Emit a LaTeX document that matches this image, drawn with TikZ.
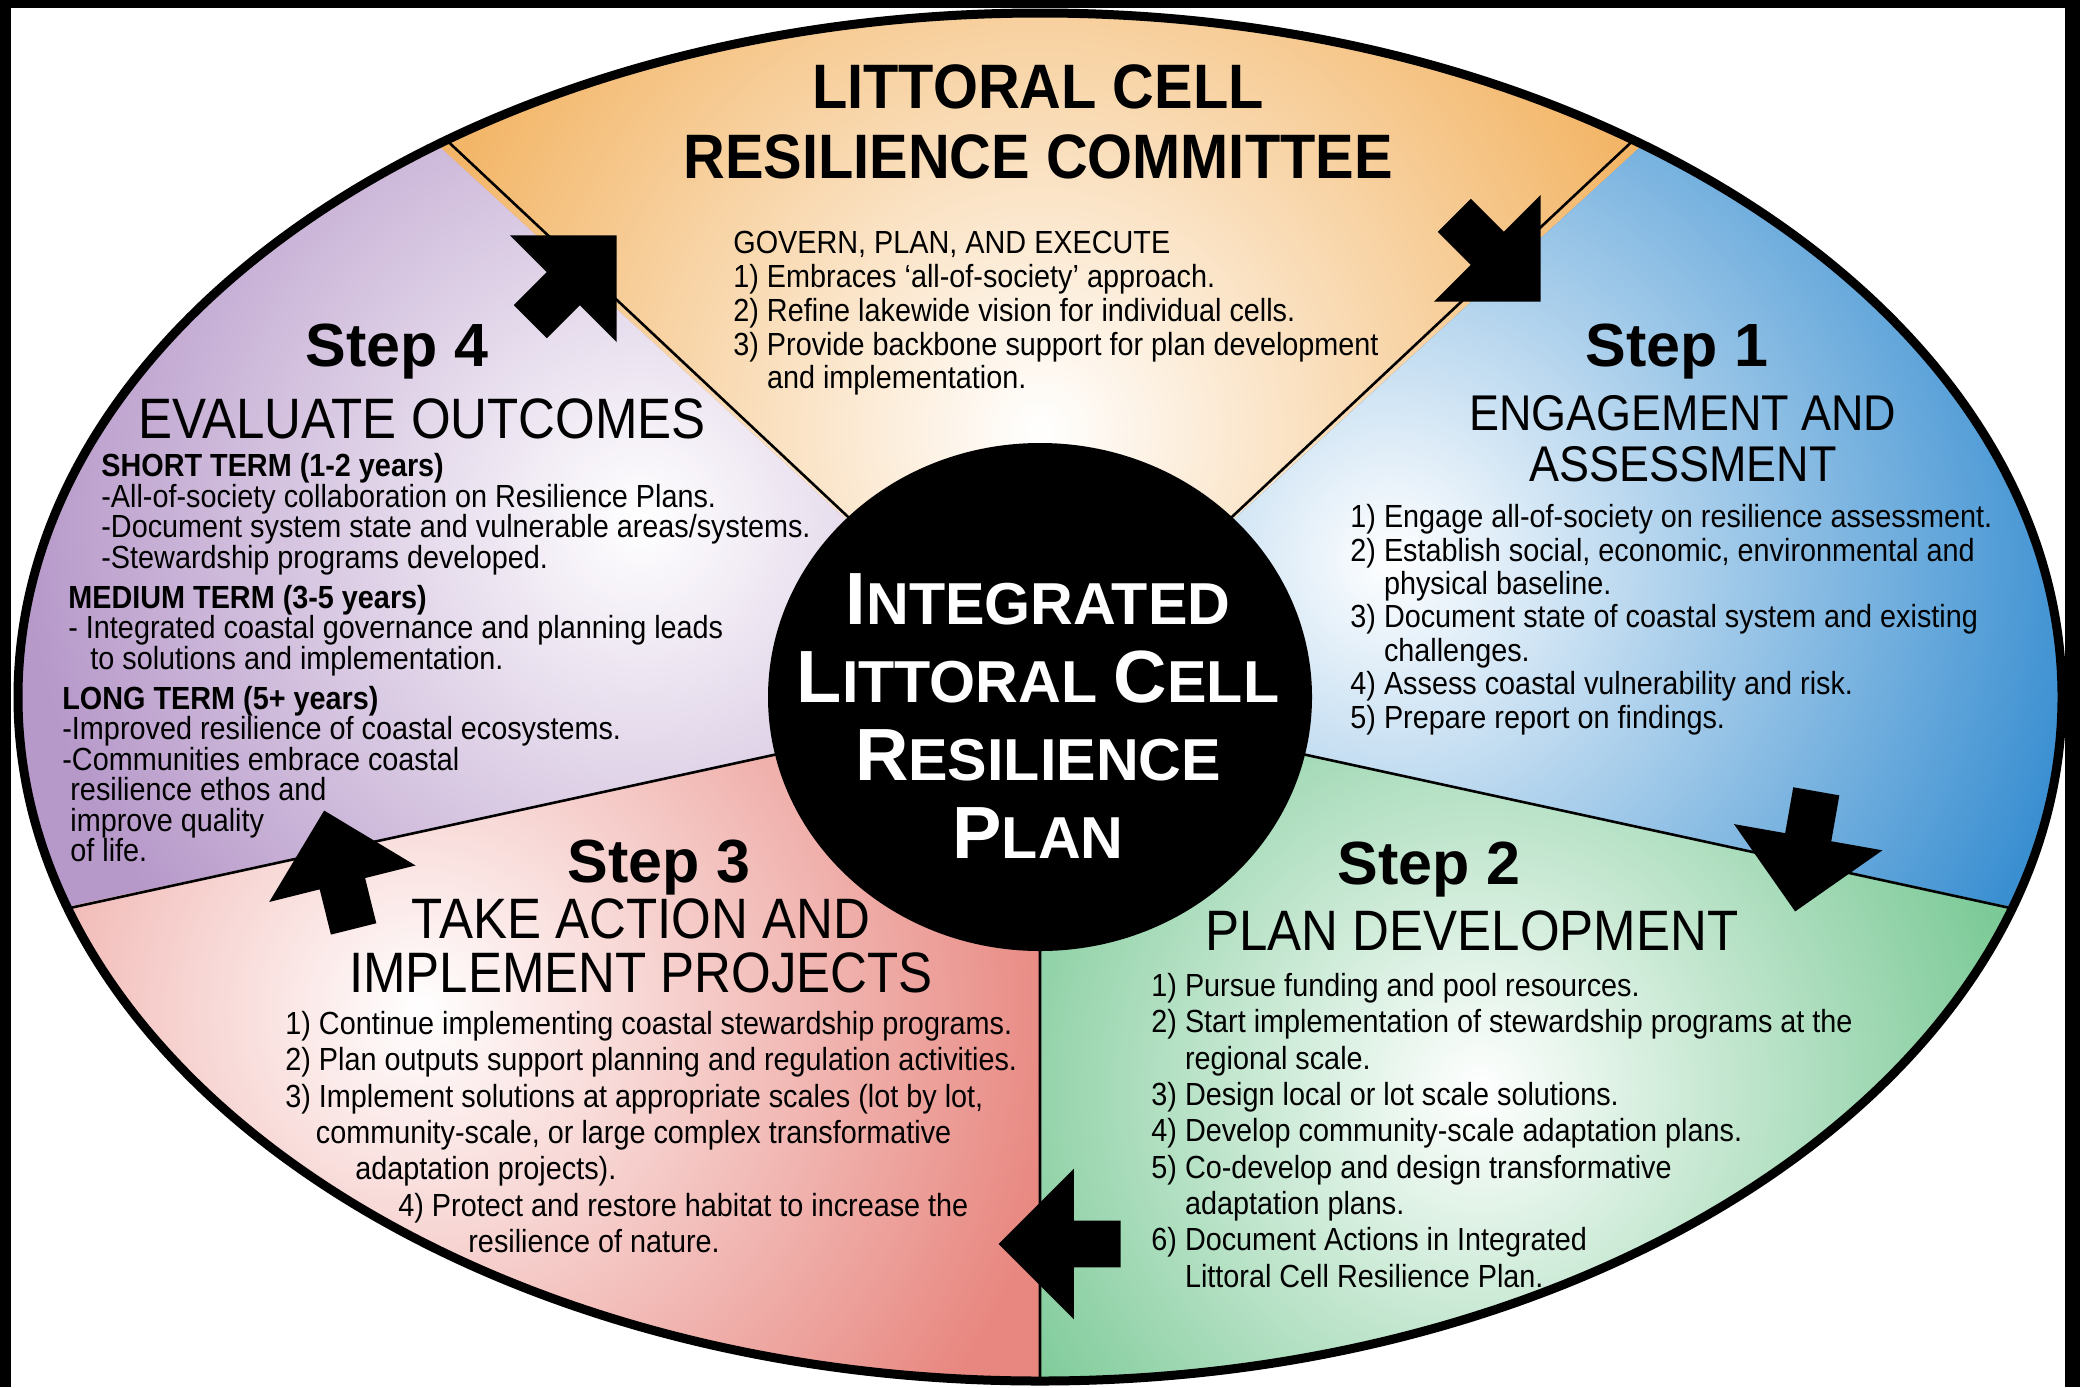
\documentclass[tikz,border=0pt]{standalone}
\usepackage{fontspec}
\setmainfont{Liberation Sans}
\newfontfamily\narrowfont[FakeStretch=0.9,Ligatures=TeX]{Liberation Sans}
\newfontfamily\headfont[FakeStretch=0.895,Ligatures=TeX]{Liberation Sans}
\newfontfamily\titlefont[FakeStretch=0.92,Ligatures=TeX]{Liberation Sans}
\usetikzlibrary{shapes.arrows}

\definecolor{govorange}{RGB}{243,182,104}
\definecolor{engblue}{RGB}{58,143,209}
\definecolor{devgreen}{RGB}{110,196,140}
\definecolor{actred}{RGB}{232,135,128}
\definecolor{evalpurple}{RGB}{182,152,201}

\newcommand\cellsector[4]{%
  \begin{scope}
    \clip #2;
    \fill[#1] #2;
    \shade[inner color=white,outer color=#1] #3 circle (#4);
  \end{scope}}
\newcommand\capfirst[1]{{\fontsize{37}{39}\selectfont #1}}

\tikzset{
  stepno/.style={font=\bfseries\fontsize{30.5}{36}\selectfont,anchor=base,inner sep=0},
  phase/.style={font=\headfont\fontsize{28.5}{27}\selectfont,align=center,inner sep=0},
  body/.style={font=\narrowfont\fontsize{16}{#1}\selectfont,align=left,anchor=north west,inner sep=0},
  turn/.style={single arrow,fill=black,inner xsep=0,inner ysep=11.5pt,minimum height=61pt,
    minimum width=75pt,single arrow head extend=26pt,single arrow tip angle=90,anchor=tip},
  divider/.style={line width=1.3pt}
}

\begin{document}
\begin{tikzpicture}[x=0.5pt,y=-0.5pt]
  \useasboundingbox (0,0) rectangle (2080,1387);
  \fill[black] (0,0) rectangle (2080,1387);
  \fill[white] (11,8) rectangle (2065,1387);
  \coordinate (ctr) at (1040,697);
  \path (ctr) ++(234.5:1022 and 684) coordinate (rtl)
        (ctr) ++(305.5:1022 and 684) coordinate (rtr)
        (ctr) ++(18:1022 and 684) coordinate (rr)
        (ctr) ++(162:1022 and 684) coordinate (rl)
        (ctr) ++(90:1022 and 684) coordinate (rb);
  % the five coloured cells
  \begin{scope}
    \clip (ctr) ellipse [x radius=1022,y radius=684];
    \cellsector{govorange}{(ctr) -- (-152,-395) -- (2232,-395) -- cycle}{(1040,430)}{640}
    \cellsector{engblue}{(ctr) -- (2232,-395) -- (3010,-395) -- (3010,1123) -- cycle}{(1390,560)}{700}
    \cellsector{devgreen}{(ctr) -- (3010,1123) -- (3010,2100) -- (1040,2100) -- cycle}{(1480,1090)}{600}
    \cellsector{actred}{(ctr) -- (1040,2100) -- (-908,2100) -- (-908,1117) -- cycle}{(420,1010)}{650}
    \cellsector{evalpurple}{(ctr) -- (-908,1117) -- (-908,-395) -- (-152,-395) -- cycle}{(640,520)}{620}
  \end{scope}
  \draw[divider] (ctr) -- (rtl) (ctr) -- (rtr) (ctr) -- (rr) (ctr) -- (rl) (ctr) -- (rb);
  \draw[line width=4.5pt] (ctr) ellipse [x radius=1022,y radius=684];
  \fill (ctr) ellipse [x radius=272,y radius=254];

  \node[turn,rotate=-45] (a1) at (1541,302) {};
  \node[turn,rotate=-100] (a2) at (1795,912) {};
  \node[turn,rotate=180] (a3) at (998,1244) {};
  \node[turn,rotate=104] (a4) at (324,810) {};
  \node[turn,rotate=45] (a5) at (617,235) {};

  \node[font=\bfseries\fontsize{37}{39}\selectfont,text=white,align=center,inner sep=0] (plan) at (1038,716)
    {\fontsize{29.6}{39}\selectfont\capfirst{I}NTEGRATED\\
     \fontsize{29.6}{39}\selectfont\capfirst{L}ITTORAL \capfirst{C}ELL\\
     \fontsize{29.6}{39}\selectfont\capfirst{R}ESILIENCE\\
     \fontsize{29.6}{39}\selectfont\capfirst{P}LAN};

  \node[font=\titlefont\bfseries\fontsize{31.4}{35}\selectfont,align=center,inner sep=0] (committee) at (1038,121.5)
    {LITTORAL CELL\\RESILIENCE COMMITTEE};
  \node[body=16.9] (govern) at (733,231)
    {GOVERN, PLAN, AND EXECUTE\\
     1) Embraces ‘all-of-society’ approach.\\
     2) Refine lakewide vision for individual cells.\\
     3) Provide backbone support for plan development\\
     \phantom{3) }and implementation.};

  \node[stepno] (s1) at (1677,366) {Step 1};
  \node[phase,font=\headfont\fontsize{25.1}{25.5}\selectfont] (s1name) at (1683,439) {ENGAGEMENT AND\\ASSESSMENT};
  \node[body=16.7] (s1list) at (1350,504)
    {1) Engage all-of-society on resilience assessment.\\
     2) Establish social, economic, environmental and\\
     \phantom{2) }physical baseline.\\
     3) Document state of coastal system and existing\\
     \phantom{3) }challenges.\\
     4) Assess coastal vulnerability and risk.\\
     5) Prepare report on findings.};

  \node[stepno] (s2) at (1429,884) {Step 2};
  \node[phase] (s2name) at (1472,931) {PLAN DEVELOPMENT};
  \node[body=18.15] (s2list) at (1151,973)
    {1) Pursue funding and pool resources.\\
     2) Start implementation of stewardship programs at the\\
     \phantom{2) }regional scale.\\
     3) Design local or lot scale solutions.\\
     4) Develop community-scale adaptation plans.\\
     5) Co-develop and design transformative\\
     \phantom{5) }adaptation plans.\\
     6) Document Actions in Integrated\\
     \phantom{6) }Littoral Cell Resilience Plan.};

  \node[stepno] (s3) at (659,882) {Step 3};
  \node[phase] (s3name) at (641,946) {TAKE ACTION AND\\IMPLEMENT PROJECTS};
  \node[body=18.15] (s3list) at (285,1011)
    {1) Continue implementing coastal stewardship programs.\\
     2) Plan outputs support planning and regulation activities.\\
     3) Implement solutions at appropriate scales (lot by lot,\\
     \hspace*{15.25pt}community-scale, or large complex transformative\\
     \hspace*{35pt}adaptation projects).\\
     \hspace*{56.5pt}4) Protect and restore habitat to increase the\\
     \hspace*{91.5pt}resilience of nature.};

  \node[stepno] (s4) at (397,366) {Step 4};
  \node[phase] (s4name) at (422,419) {EVALUATE OUTCOMES};
  \node[body=15.25] (s4list) at (62,453)
    {\hspace*{19.5pt}\textbf{SHORT TERM (1-2 years)}\\
     \hspace*{19.5pt}-All-of-society collaboration on Resilience Plans.\\
     \hspace*{19.5pt}-Document system state and vulnerable areas/systems.\\
     \hspace*{19.5pt}-Stewardship programs developed.\\[4.75pt]
     \hspace*{3pt}\textbf{MEDIUM TERM (3-5 years)}\\
     \hspace*{3pt}- Integrated coastal governance and planning leads\\
     \hspace*{14pt}to solutions and implementation.\\[4.75pt]
     \textbf{LONG TERM (5+ years)}\\
     -Improved resilience of coastal ecosystems.\\
     -Communities embrace coastal\\
     \hspace*{4pt}resilience ethos and\\
     \hspace*{4pt}improve quality\\
     \hspace*{4pt}of life.};
\end{tikzpicture}
\end{document}
